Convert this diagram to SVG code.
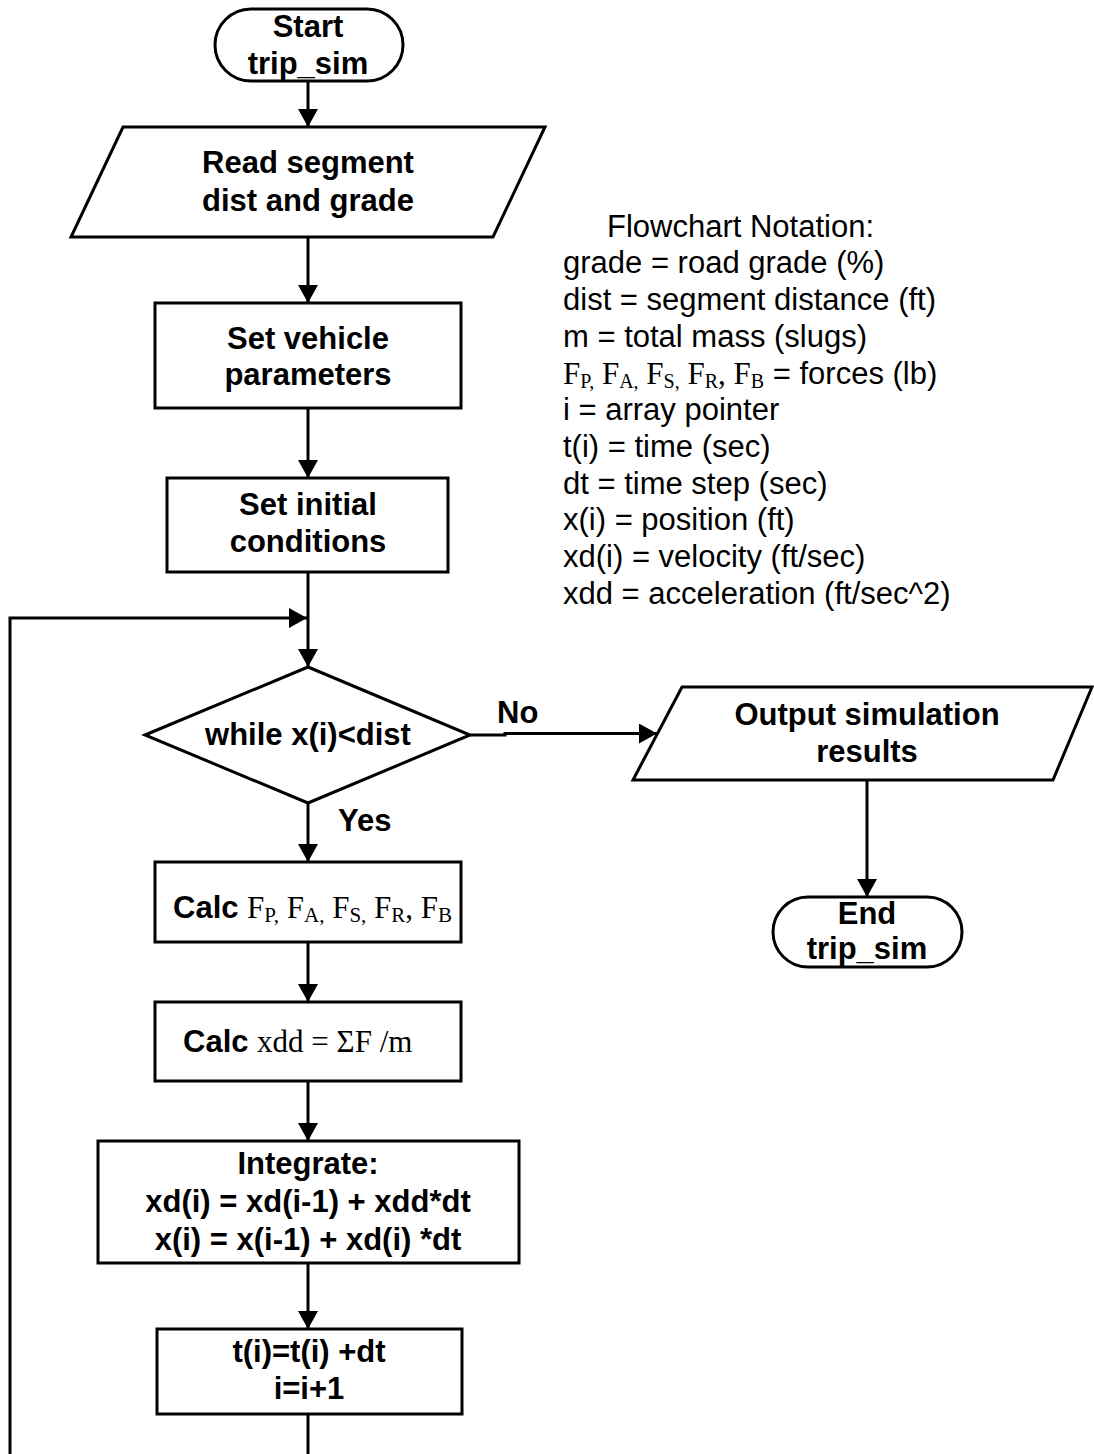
<svg xmlns="http://www.w3.org/2000/svg" width="1094" height="1454" viewBox="0 0 1094 1454">
<defs>
<marker id="arr" markerUnits="userSpaceOnUse" markerWidth="20" markerHeight="20" viewBox="0 0 18 20" refX="18" refY="10" orient="auto">
<path d="M0,0 L18,10 L0,20 Z" fill="#000"/>
</marker>
</defs>
<style>
.shape{fill:#fff;stroke:#000;stroke-width:3;stroke-linejoin:miter}
.conn{fill:none;stroke:#000;stroke-width:3}
.b{font-family:"Liberation Sans",Arial,sans-serif;font-weight:bold;font-size:31px;fill:#000;text-anchor:middle}
.bl{font-family:"Liberation Sans",Arial,sans-serif;font-weight:bold;font-size:31px;fill:#000}
.n{font-family:"Liberation Sans",Arial,sans-serif;font-size:31px;fill:#000}
.s{font-family:"Liberation Serif","Times New Roman",serif;font-weight:normal}
</style>
<rect width="1094" height="1454" fill="#fff"/>
<g id="connectors">
<line class="conn" x1="308" y1="81" x2="308" y2="127" marker-end="url(#arr)"/>
<line class="conn" x1="308" y1="237" x2="308" y2="303" marker-end="url(#arr)"/>
<line class="conn" x1="308" y1="408" x2="308" y2="478" marker-end="url(#arr)"/>
<line class="conn" x1="308" y1="572" x2="308" y2="667" marker-end="url(#arr)"/>
<path class="conn" d="M10,1454 V618 H307" marker-end="url(#arr)"/>
<path class="conn" d="M470,735 H505 V733.5 H657" marker-end="url(#arr)"/>
<line class="conn" x1="867" y1="780" x2="867" y2="897" marker-end="url(#arr)"/>
<line class="conn" x1="308" y1="803" x2="308" y2="862" marker-end="url(#arr)"/>
<line class="conn" x1="308" y1="942" x2="308" y2="1002" marker-end="url(#arr)"/>
<line class="conn" x1="308" y1="1081" x2="308" y2="1141" marker-end="url(#arr)"/>
<line class="conn" x1="308" y1="1263" x2="308" y2="1329" marker-end="url(#arr)"/>
<line class="conn" x1="308" y1="1414" x2="308" y2="1454"/>
<text class="bl" x="497" y="723">No</text>
<text class="bl" x="338" y="831">Yes</text>
</g>
<g id="start">
<rect class="shape" x="215" y="9" width="188" height="72" rx="36" ry="36"/>
<text class="b" x="308" y="37">Start</text>
<text class="b" x="308" y="74">trip_sim</text>
</g>
<g id="read">
<polygon class="shape" points="123,127 545,127 493,237 71,237"/>
<text class="b" x="308" y="173">Read segment</text>
<text class="b" x="308" y="211">dist and grade</text>
</g>
<g id="setvehicle">
<rect class="shape" x="155" y="303" width="306" height="105"/>
<text class="b" x="308" y="349">Set vehicle</text>
<text class="b" x="308" y="385">parameters</text>
</g>
<g id="setinitial">
<rect class="shape" x="167" y="478" width="281" height="94"/>
<text class="b" x="308" y="515">Set initial</text>
<text class="b" x="308" y="552">conditions</text>
</g>
<g id="decision">
<polygon class="shape" points="145,735 308,667 470,735 308,803"/>
<text class="b" x="308" y="745">while x(i)&lt;dist</text>
</g>
<g id="output">
<polygon class="shape" points="682,687 1092,687 1053,780 633,780"/>
<text class="b" x="867" y="725">Output simulation</text>
<text class="b" x="867" y="762">results</text>
</g>
<g id="end">
<rect class="shape" x="773" y="897" width="189" height="70" rx="35" ry="35"/>
<text class="b" x="867" y="924">End</text>
<text class="b" x="867" y="959">trip_sim</text>
</g>
<g id="calcforces">
<rect class="shape" x="155" y="862" width="306" height="80"/>
<text class="bl" x="173" y="918">Calc <tspan class="s" font-size="31">F</tspan><tspan class="s" font-size="21" dy="4">P,</tspan><tspan class="s" font-size="31" dy="-4"> F</tspan><tspan class="s" font-size="21" dy="4">A,</tspan><tspan class="s" font-size="31" dy="-4"> F</tspan><tspan class="s" font-size="21" dy="4">S,</tspan><tspan class="s" font-size="31" dy="-4"> F</tspan><tspan class="s" font-size="21" dy="4">R</tspan><tspan class="s" font-size="31" dy="-4">, F</tspan><tspan class="s" font-size="21" dy="4">B</tspan></text>
</g>
<g id="calcaccel">
<rect class="shape" x="155" y="1002" width="306" height="79"/>
<text class="bl" x="183" y="1052">Calc <tspan class="s" font-size="31">xdd = ΣF /m</tspan></text>
</g>
<g id="integrate">
<rect class="shape" x="98" y="1141" width="421" height="122"/>
<text class="b" x="308" y="1174">Integrate:</text>
<text class="b" x="308" y="1212">xd(i) = xd(i-1) + xdd*dt</text>
<text class="b" x="308" y="1250">x(i) = x(i-1) + xd(i) *dt</text>
</g>
<g id="increment">
<rect class="shape" x="157" y="1329" width="305" height="85"/>
<text class="b" x="309" y="1362">t(i)=t(i) +dt</text>
<text class="b" x="309" y="1399">i=i+1</text>
</g>
<g id="notation">
<text class="n" x="607" y="237">Flowchart Notation:</text>
<text class="n" x="563" y="273">grade = road grade (%)</text>
<text class="n" x="563" y="310">dist = segment distance (ft)</text>
<text class="n" x="563" y="347">m = total mass (slugs)</text>
<text class="n" x="563" y="384"><tspan class="s" font-size="31">F</tspan><tspan class="s" font-size="20" dy="4">P,</tspan><tspan class="s" font-size="31" dy="-4"> F</tspan><tspan class="s" font-size="20" dy="4">A,</tspan><tspan class="s" font-size="31" dy="-4"> F</tspan><tspan class="s" font-size="20" dy="4">S,</tspan><tspan class="s" font-size="31" dy="-4"> F</tspan><tspan class="s" font-size="20" dy="4">R</tspan><tspan class="s" font-size="31" dy="-4">, F</tspan><tspan class="s" font-size="20" dy="4">B</tspan><tspan dy="-4"> = forces (lb)</tspan></text>
<text class="n" x="563" y="420">i = array pointer</text>
<text class="n" x="563" y="457">t(i) = time (sec)</text>
<text class="n" x="563" y="494">dt = time step (sec)</text>
<text class="n" x="563" y="530">x(i) = position (ft)</text>
<text class="n" x="563" y="567">xd(i) = velocity (ft/sec)</text>
<text class="n" x="563" y="604">xdd = acceleration (ft/sec^2)</text>
</g>
</svg>
